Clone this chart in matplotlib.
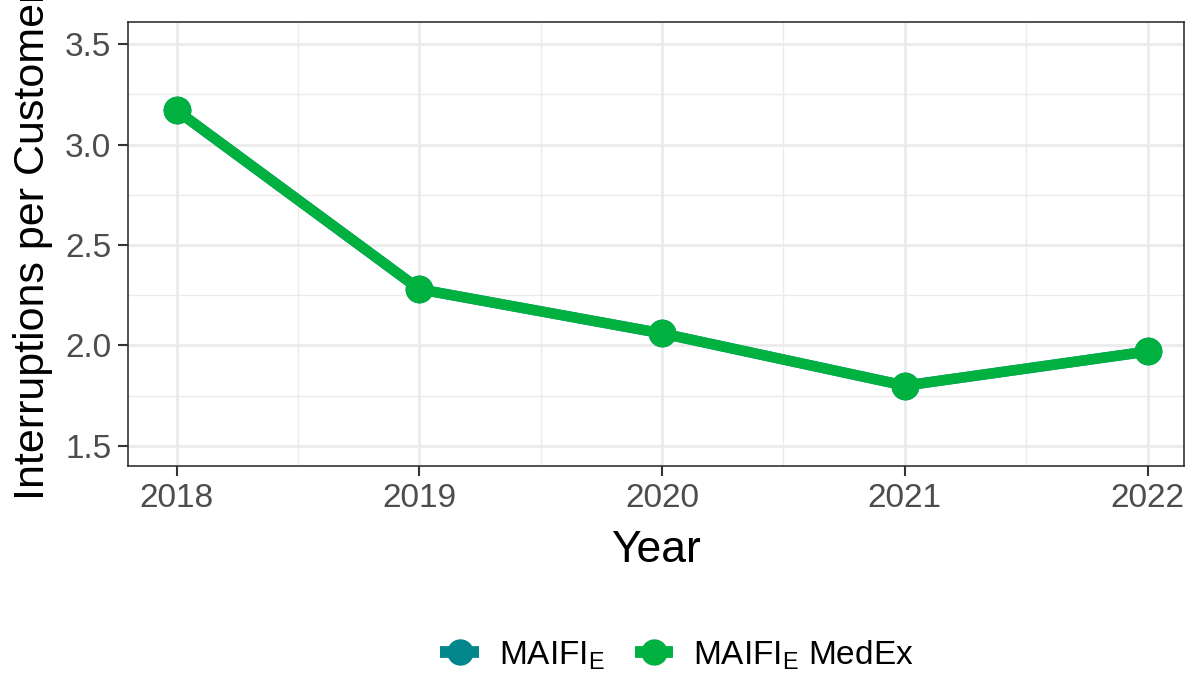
import matplotlib
matplotlib.use("Agg")
import matplotlib.pyplot as plt
from matplotlib.ticker import MultipleLocator

years = [2018, 2019, 2020, 2021, 2022]
maifi_e = [3.17, 2.28, 2.06, 1.80, 1.97]
maifi_e_medex = [3.17, 2.28, 2.06, 1.80, 1.97]
series_labels = ["MAIFI$_\\mathregular{E}$", "MAIFI$_\\mathregular{E}$ MedEx"]
colors = ["#00868B", "#00B140"]

plt.rcParams['font.family'] = ['Liberation Sans', 'DejaVu Sans']
plt.rcParams['mathtext.fontset'] = 'custom'
plt.rcParams['mathtext.rm'] = 'Liberation Sans'

W, H = 1196, 676
fig = plt.figure(figsize=(W / 100, H / 100), dpi=100)
ax = fig.add_axes([128 / W, 1 - 466 / H, (1184 - 128) / W, (466 - 22) / H])

for vals, lab, c, z in [(maifi_e, series_labels[0], colors[0], 3),
                         (maifi_e_medex, series_labels[1], colors[1], 4)]:
    ax.plot(years, vals, color=c, lw=7.5, marker='o', ms=19, label=lab,
            solid_capstyle='butt', zorder=z)

ax.set_xlim(2017.8, 2022.15)
ax.set_ylim(1.40, 3.61)
ax.xaxis.set_major_locator(MultipleLocator(1))
ax.xaxis.set_minor_locator(MultipleLocator(0.5))
ax.yaxis.set_major_locator(MultipleLocator(0.5))
ax.yaxis.set_minor_locator(MultipleLocator(0.25))
ax.yaxis.set_major_formatter(plt.FuncFormatter(lambda v, p: f"{v:.1f}"))
ax.grid(which='major', color='#EBEBEB', lw=2)
ax.grid(which='minor', color='#EBEBEB', lw=1)
ax.set_axisbelow(True)
for s in ax.spines.values():
    s.set_color('#333333')
    s.set_linewidth(1.2)
ax.tick_params(which='major', length=7, width=1.5, color='#333333',
               labelsize=24, labelcolor='#4D4D4D', pad=5)
ax.tick_params(which='minor', length=0)

ax.set_xlabel("Year", fontsize=32, color='black', labelpad=12)
ax.set_ylabel("Interruptions per Customer", fontsize=31, color='black')
ax.yaxis.set_label_coords(-0.071, 0.5)

handles, labels = ax.get_legend_handles_labels()
leg = fig.legend(handles, labels, loc='center', bbox_to_anchor=(677 / W, 1 - 655 / H),
                 ncol=2, frameon=False, fontsize=24, handlelength=1.15,
                 columnspacing=0.9, handletextpad=0.6)
for h in leg.legend_handles:
    h.set_linewidth(8.5)
    h.set_markersize(18)

fig.savefig("out.png", dpi=100)
